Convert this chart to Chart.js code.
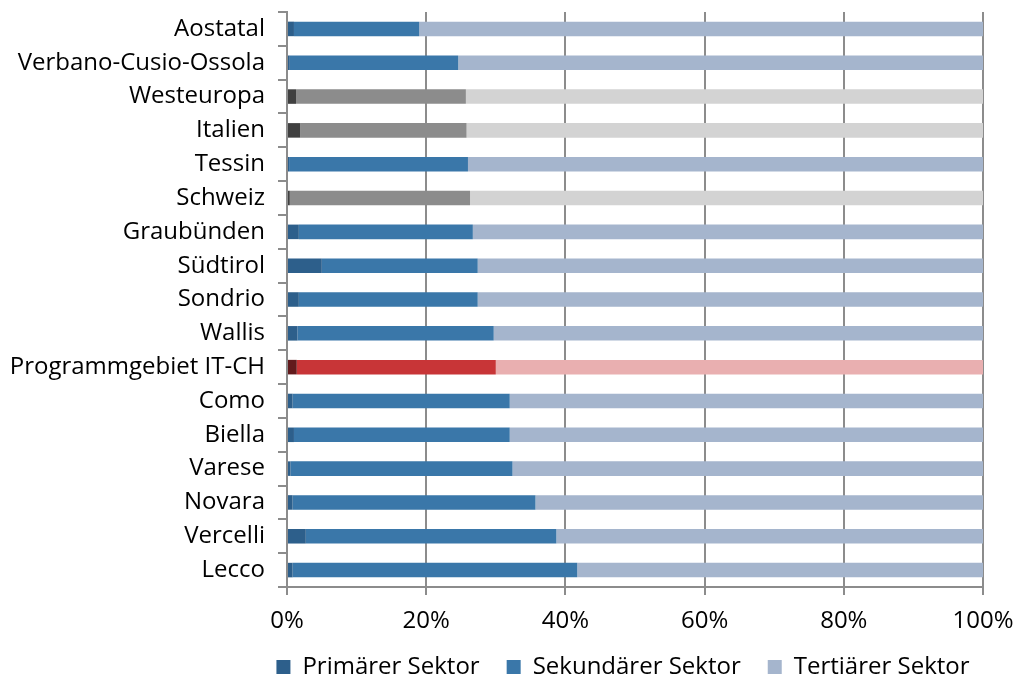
<!DOCTYPE html>
<html>
<head>
<meta charset="utf-8">
<script src="https://cdn.jsdelivr.net/npm/chart.js@4.4.1/dist/chart.umd.min.js"></script>
<style>
  html, body { margin: 0; padding: 0; background: #fff; overflow: hidden; }
  canvas { display: block; }
</style>
</head>
<body>
<canvas id="sektoren" width="1022" height="678"></canvas>
<script>
// Beschäftigte nach Wirtschaftssektor, Anteile in %
const regions = [
  'Aostatal', 'Verbano-Cusio-Ossola', 'Westeuropa', 'Italien', 'Tessin', 'Schweiz',
  'Graubünden', 'Südtirol', 'Sondrio', 'Wallis', 'Programmgebiet IT-CH', 'Como',
  'Biella', 'Varese', 'Novara', 'Vercelli', 'Lecco'
];
const primaer   = [1.0, 0.4, 1.3, 1.9, 0.3, 0.4, 1.7, 5.0, 1.7, 1.5, 1.4, 0.8, 1.0, 0.5, 0.8, 2.7, 0.8];
const sekundaer = [18.0, 24.2, 24.4, 23.9, 25.7, 25.9, 25.0, 22.4, 25.7, 28.2, 28.6, 31.2, 31.0, 31.9, 34.9, 36.0, 40.9];
const tertiaer  = [81.0, 75.4, 74.3, 74.2, 74.0, 73.7, 73.3, 72.6, 72.6, 70.3, 70.0, 68.0, 68.0, 67.6, 64.3, 61.3, 58.3];
const seriesNames = ['Primärer Sektor', 'Sekundärer Sektor', 'Tertiärer Sektor'];
const xTicks = [0, 20, 40, 60, 80, 100];

// Vergleichsräume grau, Programmgebiet rot, alle übrigen Regionen blau
const vergleichsraeume = ['Westeuropa', 'Italien', 'Schweiz'];
const programmgebiet = ['Programmgebiet IT-CH'];

const palette = {
  region:   ['#2d5f8b', '#3a77a9', '#a5b5cd'],
  vergleich:['#404040', '#8c8c8c', '#d3d3d3'],
  gesamt:   ['#621a1c', '#c83537', '#e9afb0']
};

function colorFor(k) {
  return ctx => {
    const name = regions[ctx.dataIndex];
    const set = vergleichsraeume.includes(name) ? palette.vergleich
              : programmgebiet.includes(name) ? palette.gesamt
              : palette.region;
    return set[k];
  };
}

const FONT = { family: 'Open Sans', size: 24, lineHeight: 1.2 };
const AXIS_GREY = '#8c8c8c';

// Legende unter der Zeichenfläche zentrieren
const legendUnderPlot = {
  id: 'legendUnderPlot',
  afterLayout(chart) {
    const lg = chart.legend, ca = chart.chartArea;
    const center = (ca.left + ca.right) / 2 - 12;
    lg.right = chart.width;
    lg.left = center - (chart.width - center);
  }
};

const values = [primaer, sekundaer, tertiaer];

new Chart(document.getElementById('sektoren'), {
  type: 'bar',
  data: {
    labels: regions,
    datasets: values.map((v, k) => ({
      label: seriesNames[k],
      data: v,
      backgroundColor: colorFor(k),
      borderWidth: 0,
      barPercentage: 0.43,
      categoryPercentage: 1.0
    }))
  },
  options: {
    indexAxis: 'y',
    responsive: false,
    animation: false,
    layout: { padding: { top: 12, right: 39, bottom: -11, left: 0 } },
    scales: {
      x: {
        stacked: true,
        min: 0,
        max: 100,
        afterBuildTicks: s => { s.ticks = xTicks.map(v => ({ value: v })); },
        ticks: { callback: v => v + '%', font: FONT, color: '#000', padding: 12, maxRotation: 0 },
        grid: { color: AXIS_GREY, lineWidth: 2, tickLength: 8 },
        border: { color: AXIS_GREY, width: 2 },
        afterFit: s => { s.height = 41; s.paddingLeft = 0; s.paddingRight = 0; }
      },
      y: {
        stacked: true,
        ticks: { font: FONT, color: '#000', padding: 13 },
        grid: { drawOnChartArea: false, color: AXIS_GREY, lineWidth: 2, tickLength: 9, offset: true },
        border: { color: AXIS_GREY, width: 2 },
        afterFit: s => { s.width = 287; s.paddingTop = 0; s.paddingBottom = 0; }
      }
    },
    plugins: {
      legend: {
        position: 'bottom',
        labels: {
          font: FONT,
          color: '#000',
          boxWidth: 14,
          boxHeight: 14,
          padding: 27,
          generateLabels: chart => seriesNames.map((name, k) => ({
            text: name,
            fillStyle: palette.region[k],
            strokeStyle: palette.region[k],
            lineWidth: 0,
            datasetIndex: k,
            hidden: false
          }))
        }
      },
      tooltip: { enabled: false }
    }
  },
  plugins: [legendUnderPlot]
});
</script>
</body>
</html>
